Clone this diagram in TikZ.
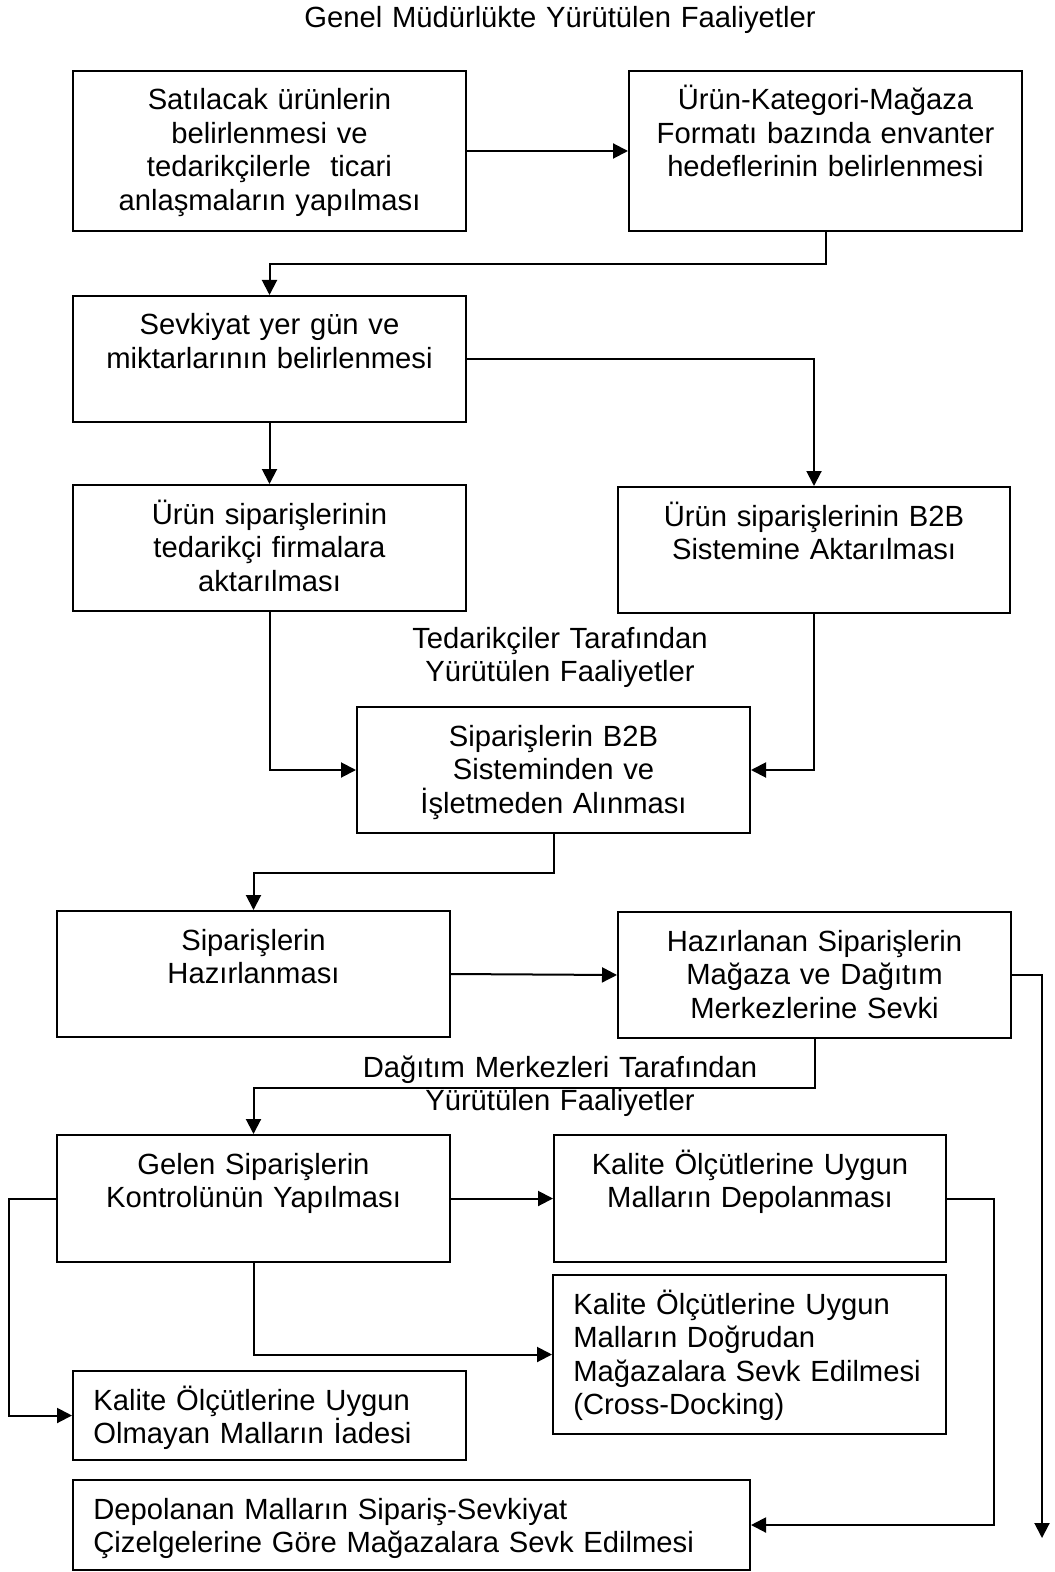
\documentclass[tikz,border=0pt]{standalone}
\usepackage{fontspec}
\setmainfont{Liberation Sans}
\usetikzlibrary{calc,arrows.meta,fit}
\newcommand\diagfont{\fontsize{14.6pt}{16.75pt}\selectfont}
\begin{document}
\begin{tikzpicture}[x=0.5pt,y=-0.5pt,
  box/.style={draw, line width=1pt, inner sep=0pt},
  ctext/.style={inner sep=0pt, anchor=base, align=center, text width=200pt, font=\diagfont},
  ltext/.style={inner sep=0pt, anchor=base west, align=left, text width=320pt, font=\diagfont},
  arr/.style={draw, line width=1pt, -{Triangle[length=7.5pt,width=7.5pt]}},
  link/.style={draw, line width=1pt}
]
\useasboundingbox (0,0) rectangle (1054,1572);

% headings
\node[ctext, text width=320pt] (hgenel) at (560,28) {Genel Müdürlükte Yürütülen Faaliyetler};
\node[ctext] (htedarik) at (560,648) {Tedarikçiler Tarafından\\Yürütülen Faaliyetler};
\node[ctext] (hdagitim) at (560,1077) {Dağıtım Merkezleri Tarafından\\Yürütülen Faaliyetler};

% boxes
\node[box, fit={(73,71) (466,231)}] (b1) {};
\node[box, fit={(629,71) (1022,231)}] (b2) {};
\node[box, fit={(73,296) (466,422)}] (b3) {};
\node[box, fit={(73,485) (466,611)}] (b4) {};
\node[box, fit={(618,487) (1010,613)}] (b5) {};
\node[box, fit={(357,707) (750,833)}] (b6) {};
\node[box, fit={(57,911) (450,1037)}] (b7) {};
\node[box, fit={(618,912) (1011,1038)}] (b8) {};
\node[box, fit={(57,1135) (450,1262)}] (b9) {};
\node[box, fit={(554,1135) (946,1262)}] (b10) {};
\node[box, fit={(553,1275) (946,1434)}] (b11) {};
\node[box, fit={(73,1371) (466,1460)}] (b12) {};
\node[box, fit={(73,1480) (750,1570)}] (b13) {};

% box texts
\node[ctext] (t1) at ($(b1.north)+(0,40)$) {Satılacak ürünlerin\\belirlenmesi ve\\tedarikçilerle~ ticari\\anlaşmaların yapılması};
\node[ctext] (t2) at ($(b2.north)+(0,40)$) {Ürün-Kategori-Mağaza\\Formatı bazında envanter\\hedeflerinin belirlenmesi};
\node[ctext] (t3) at ($(b3.north)+(0,40)$) {Sevkiyat yer gün ve\\miktarlarının belirlenmesi};
\node[ctext] (t4) at ($(b4.north)+(0,40)$) {Ürün siparişlerinin\\tedarikçi firmalara\\aktarılması};
\node[ctext] (t5) at ($(b5.north)+(0,40)$) {Ürün siparişlerinin B2B\\Sistemine Aktarılması};
\node[ctext] (t6) at ($(b6.north)+(0,40)$) {Siparişlerin B2B\\Sisteminden ve\\İşletmeden Alınması};
\node[ctext] (t7) at ($(b7.north)+(0,40)$) {Siparişlerin\\Hazırlanması};
\node[ctext] (t8) at ($(b8.north)+(0,40)$) {Hazırlanan Siparişlerin\\Mağaza ve Dağıtım\\Merkezlerine Sevki};
\node[ctext] (t9) at ($(b9.north)+(0,40)$) {Gelen Siparişlerin\\Kontrolünün Yapılması};
\node[ctext] (t10) at ($(b10.north)+(0,40)$) {Kalite Ölçütlerine Uygun\\Malların Depolanması};
\node[ltext] (t11) at ($(b11.north west)+(21,40)$) {Kalite Ölçütlerine Uygun\\Malların Doğrudan\\Mağazalara Sevk Edilmesi\\(Cross-Docking)};
\node[ltext] (t12) at ($(b12.north west)+(21,40)$) {Kalite Ölçütlerine Uygun\\Olmayan Malların İadesi};
\node[ltext] (t13) at ($(b13.north west)+(21,40)$) {Depolanan Malların Sipariş-Sevkiyat\\Çizelgelerine Göre Mağazalara Sevk Edilmesi};

% free end of the outgoing shipment line
\coordinate (sevkend) at (1042,1538);

% connectors
\draw[arr] (b1.east) -- (b2.west);
\draw[arr] (b2.south) -- ++(0,32) -| (b3.north);
\draw[arr] (b3.south) -- (b4.north);
\draw[arr] (b3.east) -| (b5.north);
\draw[arr] (b4.south) |- (b6.west);
\draw[arr] (b5.south) |- (b6.east);
\draw[arr] (b6.south) -- ++(0,39) -| (b7.north);
\draw[arr] (b7.east) -- (b8.west);
\draw[arr] (b8.east) -| (sevkend);
\draw[arr] (b8.south) -- ++(0,49) -| (b9.north);
\draw[arr] (b9.east) -- (b10.west);
\draw[arr] (b9.south) |- (b11.west);
\draw[arr] (b9.west) -- ++(-47,0) |- (b12.west);
\draw[arr] (b10.east) -- ++(47,0) |- (b13.east);
\end{tikzpicture}
\end{document}
